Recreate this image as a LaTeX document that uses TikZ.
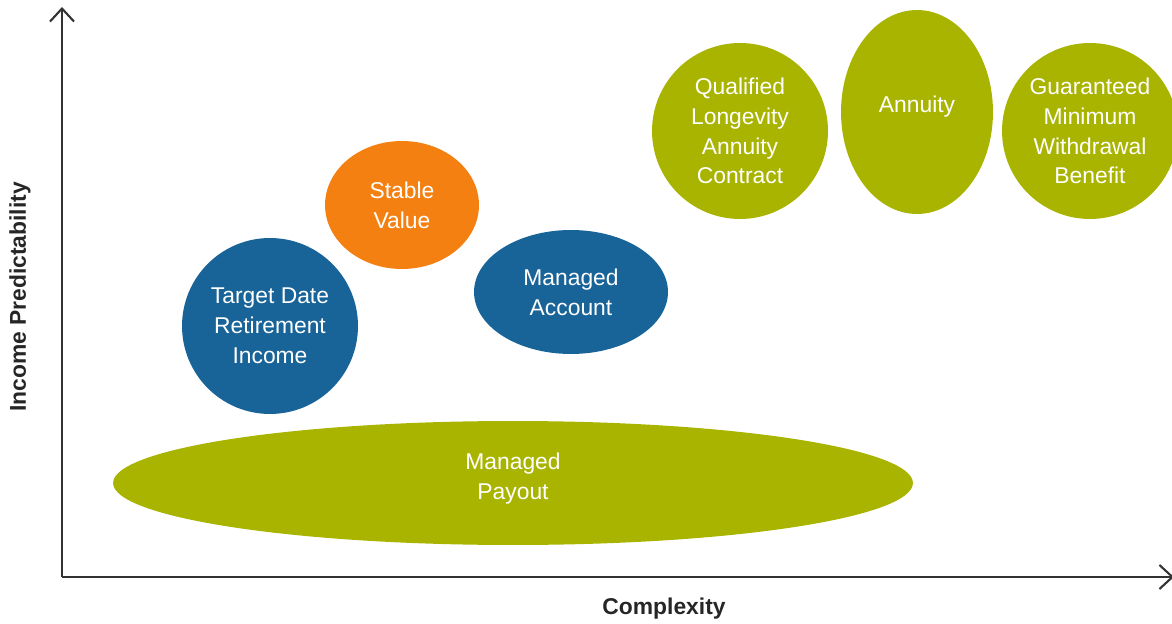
\documentclass[tikz,border=0pt]{standalone}
\usepackage{fontspec}
\setmainfont{Liberation Sans}
\usetikzlibrary{arrows.meta,shapes.geometric}
\definecolor{fundgreen}{RGB}{169,180,0}
\definecolor{fundblue}{RGB}{24,99,152}
\definecolor{fundorange}{RGB}{245,128,18}

\begin{document}
\begin{tikzpicture}[
  x=0.02cm, y=-0.02cm,
  font=\fontsize{13}{17}\selectfont,
  oval/.style={ellipse, inner sep=0pt, align=center, text=white},
  axis/.style={line width=1.2pt, draw=black!80, -{Straight Barb[length=2.6mm, width=4.8mm]}},
  axislabel/.style={font=\fontsize{13}{17}\selectfont\bfseries, text=black!85}
]
\useasboundingbox (0,0) rectangle (1172,624);
\clip (0,0) rectangle (1172,624);

% axes
\coordinate (origin) at (62,577);
\coordinate (ytop) at (62,7);
\coordinate (xend) at (1174,577);
\draw[axis] (origin) -- (ytop);
\draw[axis] (origin) -- (xend);
\node[axislabel] (xlabel) at (664,609) {Complexity};
\node[axislabel, rotate=90] (ylabel) at (20,297) {Income Predictability};

% products
\node[oval, fill=fundgreen, minimum width=16cm, minimum height=2.48cm, text depth=0.26cm] (payout) at (513,483) {Managed\\Payout};
\node[oval, fill=fundblue, minimum width=3.52cm, minimum height=3.52cm] (target) at (270,326) {Target Date\\Retirement\\Income};
\node[oval, fill=fundorange, minimum width=3.08cm, minimum height=2.56cm] (stable) at (402,205) {Stable\\Value};
\node[oval, fill=fundblue, minimum width=3.88cm, minimum height=2.48cm] (account) at (571,292) {Managed\\Account};
\node[oval, fill=fundgreen, minimum width=3.52cm, minimum height=3.52cm] (qlac) at (740,131) {Qualified\\Longevity\\Annuity\\Contract};
\node[oval, fill=fundgreen, minimum width=3.04cm, minimum height=4.08cm, text depth=0.3cm] (annuity) at (917,112) {Annuity};
\node[oval, fill=fundgreen, minimum width=3.52cm, minimum height=3.52cm] (gmwb) at (1090,131) {Guaranteed\\Minimum\\Withdrawal\\Benefit};

\end{tikzpicture}
\end{document}
